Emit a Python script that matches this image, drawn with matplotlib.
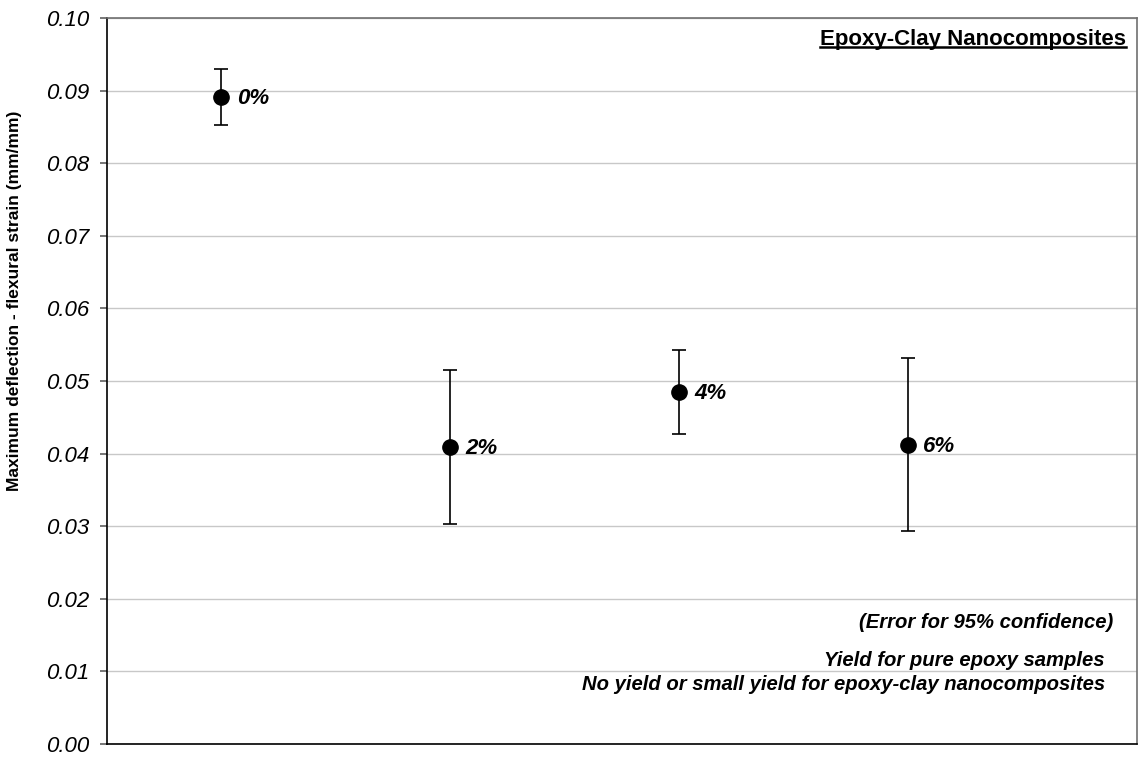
import matplotlib
matplotlib.use("Agg")
import matplotlib.pyplot as plt
from matplotlib.lines import Line2D
from matplotlib import font_manager

plt.rcParams['font.family'] = ['Liberation Sans', 'DejaVu Sans']

# Clay content (wt%) and measured flexural strain with 95% confidence bounds
clay_pct = [0, 2, 4, 6]
labels = ['0%', '2%', '4%', '6%']
strain = [0.0891, 0.0409, 0.0485, 0.0412]
err_upper = [0.0930, 0.0515, 0.0543, 0.0532]
err_lower = [0.0853, 0.0303, 0.0427, 0.0294]

yticks = [0.00, 0.01, 0.02, 0.03, 0.04, 0.05, 0.06, 0.07, 0.08, 0.09, 0.10]

installed = {f.name for f in font_manager.fontManager.ttflist}
narrow = 'Liberation Sans Narrow' in installed

fig = plt.figure(figsize=(11.4, 7.57), dpi=100)
ax = fig.add_axes([107 / 1140, 1 - 744 / 757, 1030 / 1140, 726 / 757])

yerr = [[s - lo for s, lo in zip(strain, err_lower)],
        [hi - s for s, hi in zip(strain, err_upper)]]
ax.errorbar(clay_pct, strain, yerr=yerr, fmt='o', color='black',
            markersize=11, elinewidth=1.2, capsize=4.8, capthick=1.2,
            zorder=3)

for x, y, lab in zip(clay_pct, strain, labels):
    ax.annotate(lab, (x, y), xytext=(11, -1), textcoords='offset points',
                ha='left', va='center', fontsize=16, fontweight='bold',
                fontstyle='italic')

ax.set_xlim(-1, 8)
ax.set_ylim(0, 0.10)
ax.set_xticks([])
ax.set_yticks(yticks)
ax.set_yticklabels([f'{v:.2f}' for v in yticks], fontstyle='italic',
                   fontsize=16)
ax.tick_params(axis='y', direction='out', length=5, width=1.2,
               color='#606060', pad=8)
ax.yaxis.grid(True, color='#c8c8c8', linewidth=1)
ax.set_axisbelow(True)

for side in ('top', 'right'):
    ax.spines[side].set_color('#707070')
    ax.spines[side].set_linewidth(1.2)
for side in ('left', 'bottom'):
    ax.spines[side].set_color('black')
    ax.spines[side].set_linewidth(1.2)

if narrow:
    ax.set_ylabel('Maximum deflection - flexural strain (mm/mm)',
                  fontsize=16.5, fontweight='bold',
                  family=['Liberation Sans Narrow', 'Liberation Sans'])
else:
    ax.set_ylabel('Maximum deflection - flexural strain (mm/mm)',
                  fontsize=12.5, fontweight='bold')
ax.yaxis.set_label_coords(-0.083, 0.61)

title = ax.text(0.9895, 0.971, 'Epoxy-Clay Nanocomposites',
                transform=ax.transAxes, ha='right', va='center',
                fontsize=16, fontweight='bold')

notes = [('(Error for 95% confidence)', 1113, 623),
         ('Yield for pure epoxy samples', 1105, 660),
         ('No yield or small yield for epoxy-clay nanocomposites', 1105, 685)]
for txt, px, py in notes:
    ax.text((px - 107) / 1030, (744 - py) / 726, txt, transform=ax.transAxes,
            ha='right', va='center', fontsize=14.6, fontweight='bold',
            fontstyle='italic')

# Underline the chart title
fig.canvas.draw()
bb = title.get_window_extent().transformed(fig.transFigure.inverted())
uy = bb.y0 + 0.1 * (bb.y1 - bb.y0)
fig.add_artist(Line2D([bb.x0, bb.x1], [uy, uy], transform=fig.transFigure,
                      color='black', linewidth=1.8))

fig.savefig('out.png', dpi=100)
